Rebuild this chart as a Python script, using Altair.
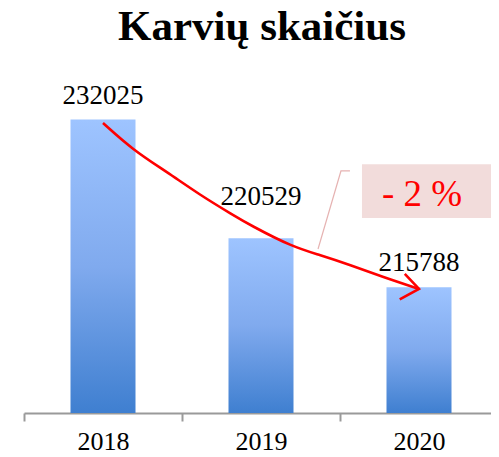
import altair as alt
import pandas as pd

years = ["2018", "2019", "2020"]
cows = [232025, 220529, 215788]

# annotation arrow (x in category units 0..3, y in value units)
arrow_x = [0.50, 0.69, 0.905, 1.114, 1.323, 1.43, 1.70, 1.873, 2.063, 2.272, 2.50]
arrow_y = [231700, 229080, 226950, 224720, 222780, 221815, 219680, 218910, 217940, 216780, 215620]
head_x = [2.41, 2.50, 2.378]
head_y = [217070, 215620, 214600]
leader_x = [2.063, 2.006, 1.861]
leader_y = [227050, 227050, 219490]

W, H = 467, 353
SPAN = 474
Y0, Y1 = 203600, 237800

df = pd.DataFrame({"year": years, "cows": cows})

ys = alt.Scale(domain=[Y0, Y1], zero=False, nice=False)
xq = alt.Scale(domain=[0, 3], nice=False, zero=False, range=[0, SPAN])
xb = alt.Scale(domain=years, paddingInner=0, paddingOuter=0, range=[0, SPAN])

grad = alt.Gradient(
    gradient="linear",
    stops=[alt.GradientStop(color="#9EC4FF", offset=0),
           alt.GradientStop(color="#80AAEE", offset=0.5),
           alt.GradientStop(color="#3F7FD0", offset=1)],
    x1=0, x2=0, y1=0, y2=1,
)

base = alt.Chart(df)

bars = base.mark_bar(fill=grad, size=65).encode(
    x=alt.X("year:N", scale=xb, title=None,
            axis=alt.Axis(labelAngle=0, labelFont="Liberation Serif", labelFontSize=26,
                          labelColor="black", domainColor="#9A9A9A", domainWidth=2,
                          tickColor="#9A9A9A", tickWidth=2, tickSize=8, tickBand="extent",
                          labelPadding=7)),
    y=alt.Y("cows:Q", scale=ys, axis=None),
    y2=alt.datum(Y0),
)

labels_main = base.transform_filter(alt.datum.year != "2019").mark_text(
    font="Liberation Serif", fontSize=27, baseline="alphabetic", color="black", dy=-16
).encode(
    x=alt.X("year:N", scale=xb, axis=None),
    y=alt.Y("cows:Q", scale=ys),
    text="cows:Q",
)
labels_mid = base.transform_filter(alt.datum.year == "2019").mark_text(
    font="Liberation Serif", fontSize=27, baseline="alphabetic", color="black", dy=-33
).encode(
    x=alt.X("year:N", scale=xb, axis=None),
    y=alt.Y("cows:Q", scale=ys),
    text="cows:Q",
)

arrow_df = pd.DataFrame({"ax": arrow_x, "ay": arrow_y, "o": list(range(len(arrow_x)))})
arrow = alt.Chart(arrow_df).mark_line(color="#FF0000", strokeWidth=2.6, interpolate="basis").encode(
    x=alt.X("ax:Q", scale=xq, axis=None),
    y=alt.Y("ay:Q", scale=ys),
    order="o:Q",
)

head_df = pd.DataFrame({"ax": head_x, "ay": head_y, "o": [0, 1, 2]})
head = alt.Chart(head_df).mark_line(color="#FF0000", strokeWidth=2.6).encode(
    x=alt.X("ax:Q", scale=xq, axis=None),
    y=alt.Y("ay:Q", scale=ys),
    order="o:Q",
)

leader_df = pd.DataFrame({"ax": leader_x, "ay": leader_y, "o": [0, 1, 2]})
leader = alt.Chart(leader_df).mark_line(color="#E6B3B2", strokeWidth=1.2).encode(
    x=alt.X("ax:Q", scale=xq, axis=None),
    y=alt.Y("ay:Q", scale=ys),
    order="o:Q",
)

box_df = pd.DataFrame({"x1": [2.139], "x2": [3.0], "y1": [227700], "y2": [222500],
                       "tx": [2.266], "ty": [223650], "t": ["- 2 %"]})
shadow = alt.Chart(box_df).mark_rect(color="#B8B8B8", opacity=0.6).encode(
    x=alt.X("x1:Q", scale=xq, axis=None), x2="x2:Q",
    y=alt.Y("y1:Q", scale=ys), y2="y2:Q",
    xOffset=alt.value(2), yOffset=alt.value(4),
)
box = alt.Chart(box_df).mark_rect(color="#F2DCDB").encode(
    x=alt.X("x1:Q", scale=xq, axis=None), x2="x2:Q",
    y=alt.Y("y1:Q", scale=ys), y2="y2:Q",
)
boxtext = alt.Chart(box_df).mark_text(font="Liberation Serif", fontSize=37, color="#FF0000",
                                      align="left", baseline="alphabetic").encode(
    x=alt.X("tx:Q", scale=xq, axis=None),
    y=alt.Y("ty:Q", scale=ys),
    text="t:N",
)

chart = alt.layer(bars, labels_main, labels_mid, leader, shadow, box, boxtext, arrow, head).resolve_scale(
    x="independent"
).properties(
    width=W, height=H,
    title=alt.Title("Karvių skaičius", font="Liberation Serif", fontSize=43, fontWeight="bold",
                    color="black", anchor="start", dx=95, offset=11),
    padding={"left": 16, "top": 52, "right": 0, "bottom": 46},
    autosize=alt.AutoSizeParams(type="none"),
).configure(background="white", view=alt.ViewConfig(stroke=None))

chart.save("out.html", embed_options={"renderer": "svg", "actions": False})
